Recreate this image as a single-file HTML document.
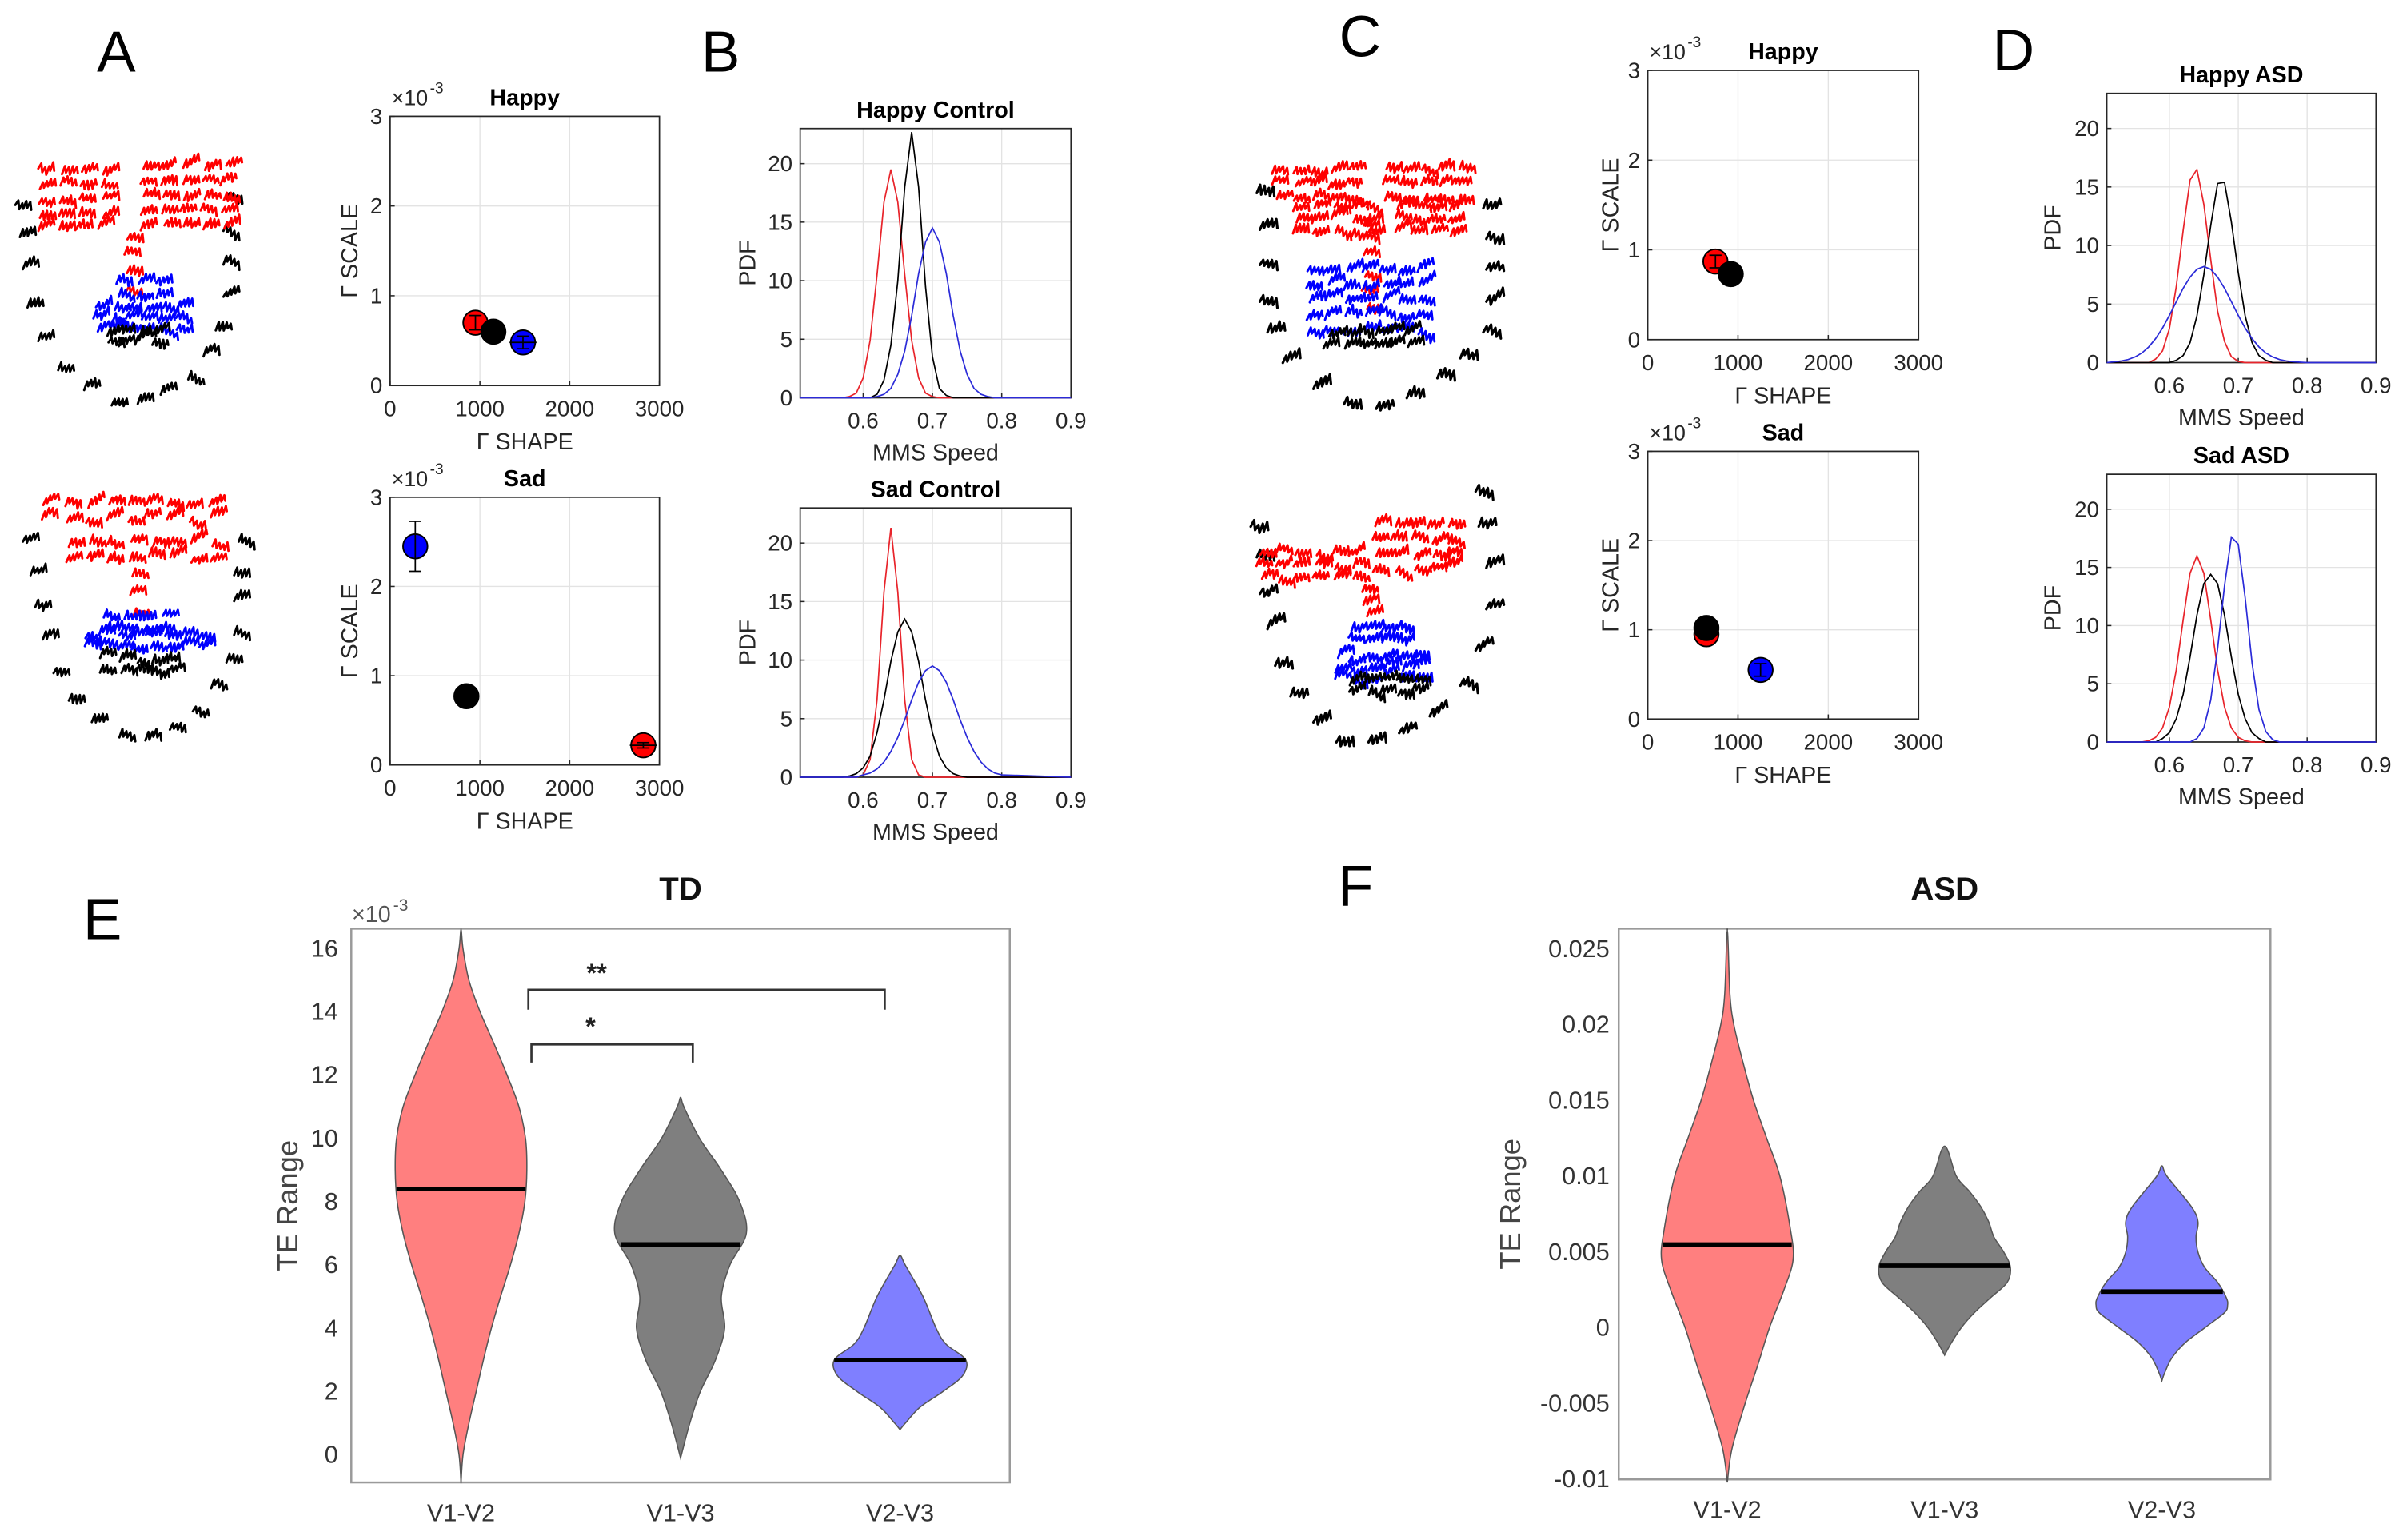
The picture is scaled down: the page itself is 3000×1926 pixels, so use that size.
<!DOCTYPE html>
<html><head><meta charset="utf-8"><style>
html,body{margin:0;padding:0;background:#fff;}
svg{display:block;}
</style></head><body>
<svg id="fig" xmlns="http://www.w3.org/2000/svg" width="3000" height="1926" viewBox="0 0 1568 1006.6" preserveAspectRatio="none"></svg>
<script>
// ---------- DATA ----------
const scatterXTicks=[0,1000,2000,3000];
const scatterYTicks=[0,1,2,3];
const aHappyShape=[950,1150,1480], aHappyScale=[0.70,0.60,0.48], aHappyYErr=[0.08,0.03,0.07], aHappyXErr=[0,0,150];
const aSadShape=[280,850,2820], aSadScale=[2.45,0.77,0.22], aSadYErr=[0.28,0.03,0.03], aSadXErr=[0,0,150];
const cHappyShape=[750,920], cHappyScale=[0.87,0.73], cHappyYErr=[0.07,0.02], cHappyXErr=[0,0];
const cSadShape=[650,650,1250], cSadScale=[0.95,1.02,0.55], cSadYErr=[0.02,0.02,0.07], cSadXErr=[0,0,0];
const aHappyColors=['#ff0000','#000000','#0000ff'], aSadColors=['#0000ff','#000000','#ff0000'];
const cHappyColors=['#ff0000','#000000'], cSadColors=['#ff0000','#000000','#0000ff'];

const pdfXTicks=[0.6,0.7,0.8,0.9];
const pdfYTicks=[0,5,10,15,20];
const pdfGrid=[0.52,0.53,0.54,0.55,0.56,0.57,0.58,0.59,0.60,0.61,0.62,0.63,0.64,0.65,0.66,0.67,0.68,0.69,0.70,0.71,0.72,0.73,0.74,0.75,0.76,0.77,0.78,0.79,0.80];
const hcRed=[0,0,0,0,0,0,0.1,0.4,1.7,4.9,10.5,16.7,19.5,16.7,10.5,4.9,1.7,0.4,0.1,0,0,0,0,0,0,0,0,0,0];
const hcBlack=[0,0,0,0,0,0,0,0,0,0,0.3,1.5,4.5,10,18,22.7,18,9.5,3.5,0.8,0.2,0,0,0,0,0,0,0,0];
const hcBlue=[0,0,0,0,0,0,0,0,0,0,0.1,0.3,0.8,2,4,7,10.6,13.3,14.5,13.3,10.6,7,4,2,0.8,0.3,0.1,0,0];
const scRed=[0,0,0,0,0,0,0,0,0.2,1.5,6.6,15.8,21.3,15.8,6.6,1.5,0.2,0,0,0,0,0,0,0,0,0,0,0,0];
const scBlack=[0,0,0,0,0,0,0.1,0.3,0.8,1.8,3.8,6.6,9.9,12.4,13.5,12.4,9.9,6.6,3.8,1.8,0.8,0.3,0.1,0,0,0,0,0,0];
const scBlue=[0,0,0,0,0,0,0,0,0.2,0.35,0.7,1.3,2.2,3.4,4.9,6.6,8.1,9.1,9.5,9.1,8.1,6.6,4.9,3.4,2.2,1.3,0.7,0.35,0.2];
const haRed=[0,0,0,0,0,0,0.3,1,2.9,6.5,11.3,15.6,16.5,13.5,8.8,4.4,1.8,0.5,0.1,0,0,0,0,0,0,0,0,0,0];
const haBlack=[0,0,0,0,0,0,0,0,0,0.2,0.6,1.7,4,7.5,11.7,15.3,15.4,12,7.7,4,1.7,0.6,0.2,0,0,0,0,0,0];
const haBlue=[0.07,0.14,0.26,0.48,0.82,1.34,2.05,2.95,4.03,5.2,6.35,7.3,7.97,8.2,7.97,7.3,6.35,5.2,4.03,2.95,2.05,1.34,0.82,0.48,0.26,0.14,0.07,0.03,0];
const saRed=[0,0,0,0,0,0.1,0.4,1.2,3,6.2,10.5,14.5,16,14.5,10.5,6.2,3,1.2,0.4,0.1,0,0,0,0,0,0,0,0,0];
const saBlack=[0,0,0,0,0,0,0,0.3,0.8,2,4.1,7.3,10.9,13.6,14.4,13.6,10.9,7.3,4.1,2,0.8,0.3,0,0,0,0,0,0,0];
const saBlue=[0,0,0,0,0,0,0,0,0,0,0,0,0.3,1.2,3.6,8,13.4,17.6,17,12.4,6.8,2.8,0.9,0.2,0,0,0,0,0];

const violinCats=['V1-V2','V1-V3','V2-V3'];
const tdYTicks=[0,2,4,6,8,10,12,14,16];
const tdRedY=[-0.9,0,1,2,3,4,5,6,7,8,9,10,11,12,13,14,15,16,16.6];
const tdRedW=[0,0.03,0.12,0.23,0.34,0.46,0.6,0.75,0.88,0.97,1.0,0.98,0.88,0.7,0.5,0.29,0.12,0.03,0];
const tdGrayY=[-0.1,1,2,3,4,5,6,7,8,9,10,11,11.3];
const tdGrayW=[0,0.14,0.3,0.53,0.67,0.62,0.75,1.0,0.9,0.62,0.29,0.05,0];
const tdBlueY=[0.8,1,1.5,2,2.5,3,3.5,4,5,6,6.3];
const tdBlueW=[0,0.08,0.3,0.65,0.95,1.0,0.7,0.55,0.35,0.08,0];
const tdMedians=[8.4,6.65,3.0];
const asdYTicks=[-0.01,-0.005,0,0.005,0.01,0.015,0.02,0.025];
const asdYTickLabels=['-0.01','-0.005','0','0.005','0.01','0.015','0.02','0.025'];
const asdRedY=[-0.0102,-0.008,-0.005,-0.0025,0,0.0025,0.0045,0.0065,0.01,0.0125,0.015,0.0175,0.02,0.022,0.0262];
const asdRedW=[0,0.07,0.27,0.46,0.64,0.86,1.0,0.96,0.8,0.6,0.4,0.24,0.1,0.04,0];
const asdGrayY=[-0.0018,-0.001,0,0.001,0.002,0.003,0.004,0.005,0.006,0.007,0.008,0.009,0.01,0.012];
const asdGrayW=[0,0.1,0.25,0.45,0.7,0.95,1.0,0.9,0.75,0.67,0.55,0.38,0.18,0];
const asdBlueY=[-0.0035,-0.003,-0.002,-0.001,0,0.001,0.0015,0.002,0.003,0.004,0.005,0.006,0.007,0.008,0.01,0.0107];
const asdBlueW=[0,0.04,0.15,0.35,0.65,0.95,1.0,0.98,0.85,0.65,0.55,0.52,0.55,0.45,0.08,0];
const asdMedians=[0.0055,0.0041,0.0024];

// ---------- HELPERS ----------
const NS='http://www.w3.org/2000/svg';
const svg=document.getElementById('fig');
function el(tag,attrs,name,inter,parent){
  const e=document.createElementNS(NS,tag);
  for(const k in attrs) e.setAttribute(k,attrs[k]);
  
  
  (parent||svg).appendChild(e);
  return e;
}
function txt(x,y,s,st,name,parent){
  const a=Object.assign({x:x,y:y,'font-family':'"Liberation Sans Narrow","Liberation Sans",sans-serif','font-size':14,fill:'#262626','text-anchor':'middle','dominant-baseline':'central'},st||{});
  const t=el('text',a,name,'false',parent);
  t.textContent=s;
  return t;
}
function lin(d0,d1,r0,r1){return v=>r0+(v-d0)/(d1-d0)*(r1-r0);}
function group(name){return el('g',{},name,'false');}

function matlabAxes(g,box,xs,ys,xt,yt,xl,yl,fs){
  xt.forEach(v=>{ el('line',{x1:xs(v),x2:xs(v),y1:box.y0,y2:box.y1,stroke:'#e3e3e3','stroke-width':0.7},'x-grid-line','false',g);});
  yt.forEach(v=>{ el('line',{x1:box.x0,x2:box.x1,y1:ys(v),y2:ys(v),stroke:'#e3e3e3','stroke-width':0.7},'y-grid-line','false',g);});
  el('rect',{x:box.x0,y:box.y0,width:box.x1-box.x0,height:box.y1-box.y0,fill:'none',stroke:'#262626','stroke-width':0.9},'plot-frame','false',g);
  xt.forEach((v,i)=>{ el('line',{x1:xs(v),x2:xs(v),y1:box.y1,y2:box.y1-3,stroke:'#262626','stroke-width':0.8},'x-tick','false',g);
    txt(xs(v),box.y1+15,xl[i],{'font-size':fs},'x-tick-label',g);});
  yt.forEach((v,i)=>{ el('line',{x1:box.x0,x2:box.x0+3,y1:ys(v),y2:ys(v),stroke:'#262626','stroke-width':0.8},'y-tick','false',g);
    txt(box.x0-5,ys(v),yl[i],{'font-size':fs,'text-anchor':'end'},'y-tick-label',g);});
}

function scatterPanel(name,box,sx,sy,ye,xe,cols,title,yLabX){
  const g=group(name);
  const xs=lin(0,3000,box.x0,box.x1), ys=lin(0,3,box.y1,box.y0);
  matlabAxes(g,box,xs,ys,scatterXTicks,scatterYTicks,scatterXTicks.map(String),scatterYTicks.map(String),14.5);
  txt(box.x0+1,box.y0-12,'×10',{'font-size':14,'text-anchor':'start'},'exponent-label',g);
  txt(box.x0+26,box.y0-18,'-3',{'font-size':10,'text-anchor':'start'},'exponent-power',g);
  txt((box.x0+box.x1)/2,box.y0-12,title,{'font-weight':'bold','font-size':15,fill:'#000'},'panel-title',g);
  txt((box.x0+box.x1)/2,box.y1+37,'Γ SHAPE',{'font-size':15},'x-axis-title',g);
  const yl=txt(yLabX,(box.y0+box.y1)/2,'Γ SCALE',{'font-size':15},'y-axis-title',g);
  yl.setAttribute('transform','rotate(-90 '+yLabX+' '+((box.y0+box.y1)/2)+')');
  sx.forEach((v,i)=>{
    const cx=xs(v), cy=ys(sy[i]);
    el('circle',{cx:cx,cy:cy,r:8,fill:cols[i],stroke:'#000','stroke-width':1},'data-point','true',g);
    const y1=ys(sy[i]-ye[i]), y2=ys(sy[i]+ye[i]);
    el('line',{x1:cx,x2:cx,y1:y1,y2:y2,stroke:'#000','stroke-width':0.9},'error-bar','false',g);
    el('line',{x1:cx-4,x2:cx+4,y1:y1,y2:y1,stroke:'#000','stroke-width':0.9},'error-cap','false',g);
    el('line',{x1:cx-4,x2:cx+4,y1:y2,y2:y2,stroke:'#000','stroke-width':0.9},'error-cap','false',g);
    if(xe[i]>0) el('line',{x1:xs(v-xe[i]),x2:xs(v+xe[i]),y1:cy,y2:cy,stroke:'#000','stroke-width':0.9},'x-error-bar','false',g);
  });
}

function pdfPanel(name,box,series,cols,title,yLabX){
  const g=group(name);
  const xs=lin(0.509,0.9,box.x0,box.x1), ys=lin(0,23,box.y1,box.y0);
  matlabAxes(g,box,xs,ys,pdfXTicks,pdfYTicks,pdfXTicks.map(v=>v.toFixed(1)),pdfYTicks.map(String),14.5);
  txt((box.x0+box.x1)/2,box.y0-12,title,{'font-weight':'bold','font-size':15,fill:'#000'},'panel-title',g);
  txt((box.x0+box.x1)/2,box.y1+36,'MMS Speed',{'font-size':15},'x-axis-title',g);
  const yl=txt(yLabX,(box.y0+box.y1)/2,'PDF',{'font-size':15},'y-axis-title',g);
  yl.setAttribute('transform','rotate(-90 '+yLabX+' '+((box.y0+box.y1)/2)+')');
  series.forEach((s,k)=>{
    const pts=[[xs(0.509),ys(0)]].concat(pdfGrid.map((x,i)=>[xs(x),ys(s[i])])).concat([[xs(0.9),ys(0)]]);
    el('polyline',{points:pts.map(p=>p.join(',')).join(' '),fill:'none',stroke:cols[k],'stroke-width':0.9},'pdf-curve','false',g);
  });
}

function catmull(pts){
  let d='M'+pts[0][0]+','+pts[0][1];
  for(let i=0;i<pts.length-1;i++){
    const p0=pts[Math.max(0,i-1)],p1=pts[i],p2=pts[i+1],p3=pts[Math.min(pts.length-1,i+2)];
    const c1=[p1[0]+(p2[0]-p0[0])/6,p1[1]+(p2[1]-p0[1])/6];
    const c2=[p2[0]-(p3[0]-p1[0])/6,p2[1]-(p3[1]-p1[1])/6];
    d+='C'+c1[0]+','+c1[1]+' '+c2[0]+','+c2[1]+' '+p2[0]+','+p2[1];
  }
  return d;
}
function interpW(Y,W,v){
  for(let i=0;i<Y.length-1;i++){ if(v>=Y[i]&&v<=Y[i+1]){const t=(v-Y[i])/(Y[i+1]-Y[i]);return W[i]+t*(W[i+1]-W[i]);} }
  return 0;
}
function violinPanel(name,box,dom,ticks,tickLabels,vY,vW,meds,title,yLabX,tickRight){
  const g=group(name);
  const ys=lin(dom[0],dom[1],box.y1,box.y0);
  const cw=(box.x1-box.x0)/violinCats.length;
  const xc=i=>box.x0+(i+0.5)*cw;
  const HW=43;
  el('rect',{x:box.x0,y:box.y0,width:box.x1-box.x0,height:box.y1-box.y0,fill:'#fff',stroke:'#9a9a9a','stroke-width':1.3},'plot-frame','false',g);
  ticks.forEach((v,i)=>txt(tickRight,ys(v),tickLabels[i],{'font-size':16,fill:'#333','text-anchor':'end','font-family':'"Liberation Sans",sans-serif'},'y-tick-label',g));
  violinCats.forEach((c,i)=>txt(xc(i),box.y1+20,c,{'font-size':16,fill:'#333','font-family':'"Liberation Sans",sans-serif'},'x-tick-label',g));
  txt((box.x0+box.x1)/2,box.y0-26,title,{'font-weight':'bold','font-size':21,fill:'#111','font-family':'"Liberation Sans",sans-serif'},'panel-title',g);
  const yl=txt(yLabX,(box.y0+box.y1)/2,'TE Range',{'font-size':19,fill:'#444','font-family':'"Liberation Sans",sans-serif'},'y-axis-title',g);
  yl.setAttribute('transform','rotate(-90 '+yLabX+' '+((box.y0+box.y1)/2)+')');
  el('line',{x1:xc(0),x2:xc(0),y1:box.y0,y2:box.y1,stroke:'#333','stroke-width':0.7},'violin-whisker','false',g);
  const fills=['#ff7f7f','#7f7f7f','#7f7fff'];
  const names=['violin-v1-v2','violin-v1-v3','violin-v2-v3'];
  vY.forEach((Y,i)=>{
    const right=Y.map((y,k)=>[xc(i)+vW[i][k]*HW,ys(y)]);
    const left=Y.slice().reverse().map((y,k)=>[xc(i)-vW[i][Y.length-1-k]*HW,ys(y)]);
    const pts=right.concat(left.slice(1));
    el('path',{d:catmull(pts)+'Z',fill:fills[i],stroke:'#555','stroke-width':0.8},names[i],'true',g);
    const w=interpW(Y,vW[i],meds[i])*HW;
    el('line',{x1:xc(i)-w,x2:xc(i)+w,y1:ys(meds[i]),y2:ys(meds[i]),stroke:'#000','stroke-width':3},'median-line','false',g);
  });
  return {g:g,ys:ys,xc:xc,cw:cw};
}

// scribble faces (decorative)
let seed=7;
function rnd(){seed=(seed*16807)%2147483647;return seed/2147483647;}
function glyph(g,x,y,col,s){
  let d='M'+(x-5*s)+','+(y+2*s);
  const n=4;
  for(let i=0;i<n;i++){ d+=' l'+(2*s)+','+(-(3+rnd()*3)*s)+' l'+(0.6*s)+','+((3+rnd()*3)*s); }
  el('path',{d:d,fill:'none',stroke:col,'stroke-width':1.5*s,'stroke-linejoin':'round','stroke-linecap':'round'},'motion-trace','false',g);
}
function region(g,x0,x1,y0,y1,col,dx,dy,s){
  dx*=1.5; dy*=1.4;
  for(let y=y0;y<=y1;y+=dy) for(let x=x0;x<=x1;x+=dx) glyph(g,x+rnd()*4,y+rnd()*4,col,s);
}
function pts(g,list,col,s){list.forEach(p=>glyph(g,p[0],p[1],col,s));}

// ---------- FACES ----------
(function(){
  let g=group('face-a-happy');
  pts(g,[[15,132],[18,153],[20,174],[23,199],[30,221],[43,240],[60,253],[78,263],[95,262],[110,256],[128,246],[138,231],[146,214],[151,192],[151,171],[151,149],[153,128]],'#000',1);
  region(g,28,76,108,150,'#ff0000',9,7,1); region(g,95,150,106,148,'#ff0000',9,7,1);
  region(g,86,90,152,195,'#ff0000',6,8,1);
  region(g,80,105,183,195,'#0000ff',8,6,1); region(g,66,122,198,212,'#0000ff',7,5,1);
  region(g,72,112,214,226,'#000',7,5,1);
  g=group('face-a-sad');
  pts(g,[[20,352],[25,374],[28,395],[33,416],[40,438],[50,456],[65,470],[83,480],[100,482],[116,475],[131,463],[143,448],[153,431],[158,413],[158,391],[158,374],[161,352]],'#000',1);
  region(g,32,150,326,340,'#ff0000',9,7,1); region(g,48,145,352,368,'#ff0000',9,7,1);
  region(g,90,96,372,405,'#ff0000',6,9,1);
  region(g,72,115,400,410,'#0000ff',8,6,1); region(g,58,132,412,425,'#0000ff',7,5,1);
  region(g,70,118,428,443,'#000',7,6,1);
  g=group('face-c-happy');
  pts(g,[[827,124],[829,148],[829,171],[829,195],[834,215],[844,235],[864,252],[884,262],[905,265],[925,258],[945,245],[960,232],[975,215],[977,195],[977,174],[977,154],[975,134]],'#000',1.1);
  region(g,836,889,108,128,'#ff0000',8,7,1); region(g,908,960,108,128,'#ff0000',8,7,1);
  region(g,850,904,132,156,'#ff0000',8,6,1); region(g,915,955,132,156,'#ff0000',8,6,1);
  region(g,895,900,142,198,'#ff0000',6,8,1);
  region(g,858,932,174,218,'#0000ff',8,7,1);
  region(g,870,928,214,230,'#000',7,6,1);
  g=group('face-c-sad');
  pts(g,[[970,319],[972,342],[977,369],[977,396],[970,423],[960,446],[940,466],[920,477],[900,483],[879,483],[864,470],[849,453],[839,433],[834,409],[829,386],[827,362],[823,342]],'#000',1.1);
  region(g,826,888,358,381,'#ff0000',8,6,1); region(g,902,958,340,370,'#ff0000',8,7,1);
  region(g,895,900,381,402,'#ff0000',6,7,1);
  region(g,886,924,407,418,'#0000ff',7,5,1); region(g,876,938,427,441,'#0000ff',7,5,1);
  region(g,886,928,442,450,'#000',7,5,1);
})();

// ---------- PANELS ----------
scatterPanel('scatter-a-happy',{x0:255,x1:431,y0:76,y1:252},aHappyShape,aHappyScale,aHappyYErr,aHappyXErr,aHappyColors,'Happy',229);
scatterPanel('scatter-a-sad',{x0:255,x1:431,y0:325,y1:500},aSadShape,aSadScale,aSadYErr,aSadXErr,aSadColors,'Sad',229);
scatterPanel('scatter-c-happy',{x0:1077,x1:1254,y0:46,y1:222},cHappyShape,cHappyScale,cHappyYErr,cHappyXErr,cHappyColors,'Happy',1053);
scatterPanel('scatter-c-sad',{x0:1077,x1:1254,y0:295,y1:470},cSadShape,cSadScale,cSadYErr,cSadXErr,cSadColors,'Sad',1053);
const pc=['#e8242b','#000000','#2b2bd8'];
pdfPanel('pdf-happy-control',{x0:523,x1:700,y0:84,y1:260},[hcRed,hcBlack,hcBlue],pc,'Happy Control',489);
pdfPanel('pdf-sad-control',{x0:523,x1:700,y0:332,y1:508},[scRed,scBlack,scBlue],pc,'Sad Control',489);
pdfPanel('pdf-happy-asd',{x0:1377,x1:1553,y0:61,y1:237},[haRed,haBlack,haBlue],pc,'Happy ASD',1342);
pdfPanel('pdf-sad-asd',{x0:1377,x1:1553,y0:310,y1:485},[saRed,saBlack,saBlue],pc,'Sad ASD',1342);

const td=violinPanel('violin-td',{x0:229.6,x1:660,y0:607,y1:969},[-0.87,16.63],tdYTicks,tdYTicks.map(String),[tdRedY,tdGrayY,tdBlueY],[tdRedW,tdGrayW,tdBlueW],tdMedians,'TD',188,221);
txt(230,598,'×10',{'font-size':15,fill:'#555','text-anchor':'start','font-family':'"Liberation Sans",sans-serif'},'exponent-label',td.g);
txt(257,592,'-3',{'font-size':11,fill:'#555','text-anchor':'start','font-family':'"Liberation Sans",sans-serif'},'exponent-power',td.g);
// significance brackets
(function(){
  const b1x0=td.xc(0)+44, b1x1=td.xc(2)-10, b2x1=td.xc(1)+8;
  const yA=td.ys(14.7), yA2=td.ys(14.07), yB=td.ys(12.97), yB2=td.ys(12.4);
  el('path',{d:'M'+b1x0+','+yA2+' V'+yA+' H'+b1x1+' V'+yA2,fill:'none',stroke:'#333','stroke-width':1.4},'significance-bracket-v1v2-v2v3','false',td.g);
  el('path',{d:'M'+(b1x0+2)+','+yB2+' V'+yB+' H'+b2x1+' V'+yB2,fill:'none',stroke:'#333','stroke-width':1.4},'significance-bracket-v1v2-v1v3','false',td.g);
  txt(390,636,'**',{'font-size':17,'font-weight':'bold',fill:'#222','font-family':'"Liberation Sans",sans-serif'},'significance-stars',td.g);
  txt(386,671,'*',{'font-size':17,'font-weight':'bold',fill:'#222','font-family':'"Liberation Sans",sans-serif'},'significance-star',td.g);
})();
violinPanel('violin-asd',{x0:1058,x1:1484,y0:607,y1:967},[-0.01,0.02635],asdYTicks,asdYTickLabels,[asdRedY,asdGrayY,asdBlueY],[asdRedW,asdGrayW,asdBlueW],asdMedians,'ASD',987,1052);

// panel letters
[['A',76,34],['B',471,34],['C',889,24],['D',1316,33],['E',67,601],['F',886,579]].forEach(l=>{
  txt(l[1],l[2],l[0],{'font-size':38,fill:'#000','font-family':'"Liberation Sans",sans-serif'},'panel-letter-'+l[0].toLowerCase(),svg);
});
</script>
</body></html>
